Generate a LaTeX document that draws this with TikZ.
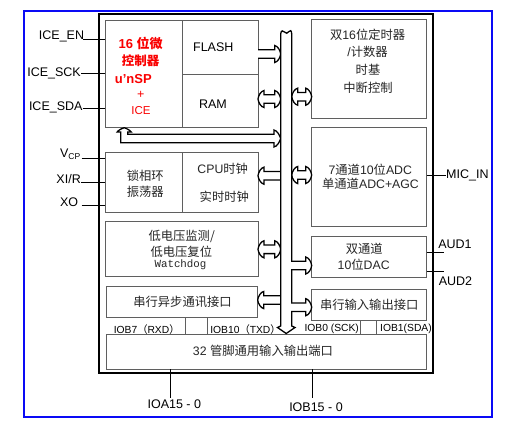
\documentclass[tikz,border=0pt]{standalone}
\usepackage{fontspec}
\setmainfont{Liberation Sans}
\newfontfamily\cjk{Noto Sans CJK SC}
\newfontfamily\monof{Liberation Mono}
\usetikzlibrary{calc}
\definecolor{boxgray}{RGB}{95,95,95}
\definecolor{framblue}{RGB}{10,10,245}
\definecolor{chipred}{RGB}{250,0,0}
\newcommand\zh[1]{{\cjk #1}}
\newcommand\mkblk[6][blk]{\node[#1, anchor=north west, minimum width={(#5)-(#3)}, minimum height={(#6)-(#4)}] (#2) at (#3,#4) {};}
\begin{document}
\begin{tikzpicture}[x=1pt,y=-1pt,
  blk/.style={draw=boxgray, line width=0.9pt, fill=white, inner sep=0pt, outer sep=0pt},
  chip/.style={draw=black, line width=1.9pt, inner sep=0pt, outer sep=0pt},
  lbl/.style={inner sep=0pt, font=\fontsize{12.5}{14}\selectfont},
  txt/.style={inner sep=0pt, text=black!85, font=\fontsize{12.3}{14}\selectfont},
  small/.style={inner sep=0pt, font=\fontsize{10.3}{12}\selectfont},
  redtxt/.style={inner sep=0pt, text=chipred},
  pin/.style={line width=0.9pt},
  holw/.style={draw=black, fill=white, line width=1.3pt, line join=miter},
  hr/.style={holw, to path={let \p1=(\tikztostart),\p2=(\tikztotarget),\n1={(\x2>\x1)*2-1} in
    (\x1,\y1+4.3pt) -- ({\x2-\n1*6pt},\y1+4.3pt) -- ({\x2-\n1*6pt},\y1+8.5pt)
    .. controls ({\x2-\n1*3pt},\y1+8pt) and ({\x2-\n1*0.4pt},\y1+3.5pt) .. (\x2,\y1)
    .. controls ({\x2-\n1*0.4pt},\y1-3.5pt) and ({\x2-\n1*3pt},\y1-8pt) .. ({\x2-\n1*6pt},\y1-8.5pt)
    -- ({\x2-\n1*6pt},\y1-4.3pt) -- (\x1,\y1-4.3pt)}},
  hb/.style={holw, to path={let \p1=(\tikztostart),\p2=(\tikztotarget),\n1={(\x2>\x1)*2-1} in
    ({\x1+\n1*6pt},\y1+4.3pt) -- ({\x2-\n1*6pt},\y1+4.3pt) -- ({\x2-\n1*6pt},\y1+8.5pt)
    .. controls ({\x2-\n1*3pt},\y1+8pt) and ({\x2-\n1*0.4pt},\y1+3.5pt) .. (\x2,\y1)
    .. controls ({\x2-\n1*0.4pt},\y1-3.5pt) and ({\x2-\n1*3pt},\y1-8pt) .. ({\x2-\n1*6pt},\y1-8.5pt)
    -- ({\x2-\n1*6pt},\y1-4.3pt) -- ({\x1+\n1*6pt},\y1-4.3pt) -- ({\x1+\n1*6pt},\y1-8.5pt)
    .. controls ({\x1+\n1*3pt},\y1-8pt) and ({\x1+\n1*0.4pt},\y1-3.5pt) .. (\x1,\y1)
    .. controls ({\x1+\n1*0.4pt},\y1+3.5pt) and ({\x1+\n1*3pt},\y1+8pt) .. ({\x1+\n1*6pt},\y1+8.5pt) -- cycle}},
  busline/.style={line width=1.3pt, line join=miter}
]
\useasboundingbox (0,0) rectangle (515,437);
\draw[framblue, line width=2pt] (24,11) rectangle (492,417);
\mkblk[chip]{chipbox}{99}{14}{433}{373}
% left blocks
\mkblk{cpu}{105}{20}{182}{127.7}
\mkblk{flash}{182}{20}{258}{74}
\mkblk{ram}{182}{74}{258}{127.7}
\mkblk{pll}{105}{152.3}{182}{212.7}
\mkblk{clk}{182}{152.3}{258}{212.7}
\mkblk{lvd}{105}{221}{258}{276}
\mkblk{uart}{106.7}{286.7}{257.7}{317.7}
% right blocks
\mkblk{timer}{311.7}{19}{426.7}{118.3}
\mkblk{adc}{311.7}{127.7}{426.7}{226}
\mkblk{dac}{311.7}{236.7}{426.7}{277.3}
\mkblk{sio}{311.7}{289}{426.7}{320}
% small labels above the port
\node[small] (rxd) at (146.7,329.5) {IOB7\zh{（}RXD\zh{）}};
\node[small] (txd) at (245.5,329.5) {IOB10\zh{（}TXD\zh{）}};
\node[small] (sck) at (331.7,328.8) {IOB0 (SCK)};
\node[small] (sda) at (406,328.8) {IOB1(SDA)};
\mkblk{port}{106.7}{334}{426.7}{369.3}
\draw[pin, boxgray] (uart.south -| 185.7,0) -- (port.north -| 185.7,0);
\draw[pin, boxgray] (uart.south -| 207.7,0) -- (port.north -| 207.7,0);
\draw[pin, boxgray] (sio.south -| 360.7,0) -- (port.north -| 360.7,0);
\draw[pin, boxgray] (sio.south -| 376,0) -- (port.north -| 376,0);
% bus connectors
\coordinate (busL) at (280.7,0);
\coordinate (busR) at (291.7,0);
\draw[hr] (flash.east |- 0,54) to (busL |- 0,54);
\draw[hb] (ram.east |- 0,99) to (busL |- 0,99);
\draw[holw] (120.7,132) -- (120.7,142.7) -- (274,142.7) -- (274,147)
  .. controls (277,146.5) and (279.6,142) .. (busL |- 0,138.5)
  .. controls (279.6,135) and (277,130.5) .. (274,130) -- (274,134.3) -- (127.7,134.3) -- (127.7,132) -- (131.2,132)
  .. controls (130.5,130.5) and (126.5,128.4) .. (cpu.south -| 124.2,0)
  .. controls (121.9,128.4) and (117.9,130.5) .. (117.2,132) -- cycle;
\draw[hr] (busL |- 0,175.7) to (clk.east |- 0,175.7);
\draw[hb] (lvd.east |- 0,249.3) to (busL |- 0,249.3);
\draw[hr] (busL |- 0,300) to (uart.east |- 0,300);
\draw[hb] (busR |- 0,96.7) to (timer.west |- 0,96.7);
\draw[hb] (busR |- 0,175) to (adc.west |- 0,175);
\draw[busline, fill=white] (280.7,34) -- (280.7,326) -- (277.5,327.5) -- (286.2,333.5) -- (295,327.5) -- (291.7,326) -- (291.7,34)
  .. controls (291.7,30.5) and (290,29.5) .. (289,31.5) .. controls (288,33.5) and (285.5,34) .. (284.5,32) .. controls (283.5,30) and (280.7,30.5) .. (280.7,34);
\draw[hr] ($(busR |- 0,265.5)+(-0.7,0)$) to (dac.west |- 0,265.5);
\draw[hr] ($(busR |- 0,307.2)+(-0.7,0)$) to (sio.west |- 0,307.2);
% pins left
\node[lbl, anchor=east] (pen) at (84.3,36.7) {ICE\_EN};
\node[lbl, anchor=east] (psck) at (81,73) {ICE\_SCK};
\node[lbl, anchor=east] (psda) at (82.7,107.7) {ICE\_SDA};
\node[lbl, anchor=east] (pvcp) at (80.5,154) {V\raisebox{-1.5pt}{\fontsize{8.5}{9}\selectfont CP}};
\node[lbl, anchor=east] (pxi) at (81,178.7) {XI/R};
\node[lbl, anchor=east] (pxo) at (78.3,202) {XO};
\draw[pin] (83,39.3) -- (cpu.west |- 0,39.3);
\draw[pin] (psck.east |- 0,73) -- (cpu.west |- 0,73);
\draw[pin] (psda.east |- 0,108.3) -- (cpu.west |- 0,108.3);
\draw[pin] (81.7,158) -- (pll.west |- 0,158);
\draw[pin] (pxi.east |- 0,182.3) -- (pll.west |- 0,182.3);
\draw[pin] (81.7,205.7) -- (pll.west |- 0,205.7);
% pins right and bottom
\node[lbl, anchor=west] (pmic) at (446,175.3) {MIC\_IN};
\draw[pin] (adc.east |- 0,175.7) -- (pmic.west |- 0,175.7);
\node[lbl] (paud1) at (455,244.3) {AUD1};
\node[lbl] (paud2) at (455.5,280.7) {AUD2};
\draw[pin] (dac.east |- 0,252.7) -- (444.3,252.7);
\draw[pin] (dac.east |- 0,271) -- (444.3,271);
\node[lbl] (pioa) at (174.3,404) {IOA15 - 0};
\node[lbl] (piob) at (316,407) {IOB15 - 0};
\draw[pin] (port.south -| 170.7,0) -- (170.7,398);
\draw[pin] (port.south -| 312.3,0) -- (312.3,398);
% CPU texts
\node[redtxt, font=\fontsize{13}{14}\selectfont\bfseries] (c1) at (140.7,43) {16 \zh{\bfseries 位微}};
\node[redtxt, font=\fontsize{12.5}{14}\selectfont\bfseries] (c2) at (140.5,60.7) {\zh{\bfseries 控制器}};
\node[redtxt, font=\fontsize{13}{14}\selectfont\bfseries] (c3) at (133.3,79.3) {u'nSP};
\node[redtxt, font=\fontsize{12.5}{14}\selectfont] (c4) at (140.7,95) {+};
\node[redtxt, font=\fontsize{11.5}{13}\selectfont] (c5) at (141,111) {ICE};
\node[lbl] (tflash) at (213.3,47.3) {FLASH};
\node[lbl] (tram) at (213,104.3) {RAM};
\node[txt] (tp1) at (145.3,175.7) {\zh{锁相环}};
\node[txt] (tp2) at (145.3,191.7) {\zh{振荡器}};
\node[txt] (tc1) at (222.7,169.3) {CPU\zh{时钟}};
\node[txt] (tc2) at (224.3,196.7) {\zh{实时时钟}};
\node[txt] (tl1) at (181.7,236) {\zh{低电压监测/}};
\node[txt] (tl2) at (181.3,251.7) {\zh{低电压复位}};
\node[txt, font=\monof\fontsize{10.8}{12}\selectfont] (tl3) at (180.5,264.3) {Watchdog};
\node[txt] (tu) at (182.5,301.7) {\zh{串行异步通讯接口}};
\node[txt] (tport) at (263,350.7) {32 \zh{管脚通用输入输出端口}};
\node[txt] (tt1) at (367.7,35) {\zh{双}16\zh{位定时器}};
\node[txt] (tt2) at (367.5,51.7) {/\zh{计数器}};
\node[txt] (tt3) at (368,69.3) {\zh{时基}};
\node[txt] (tt4) at (368,88.3) {\zh{中断控制}};
\node[txt] (ta1) at (370.3,169.3) {7\zh{通道}10\zh{位}ADC};
\node[txt] (ta2) at (370.5,183.3) {\zh{单通道}ADC+AGC};
\node[txt] (td1) at (364.3,249.3) {\zh{双通道}};
\node[txt] (td2) at (363.7,265) {10\zh{位}DAC};
\node[txt] (ts) at (369.2,305) {\zh{串行输入输出接口}};
\end{tikzpicture}
\end{document}
